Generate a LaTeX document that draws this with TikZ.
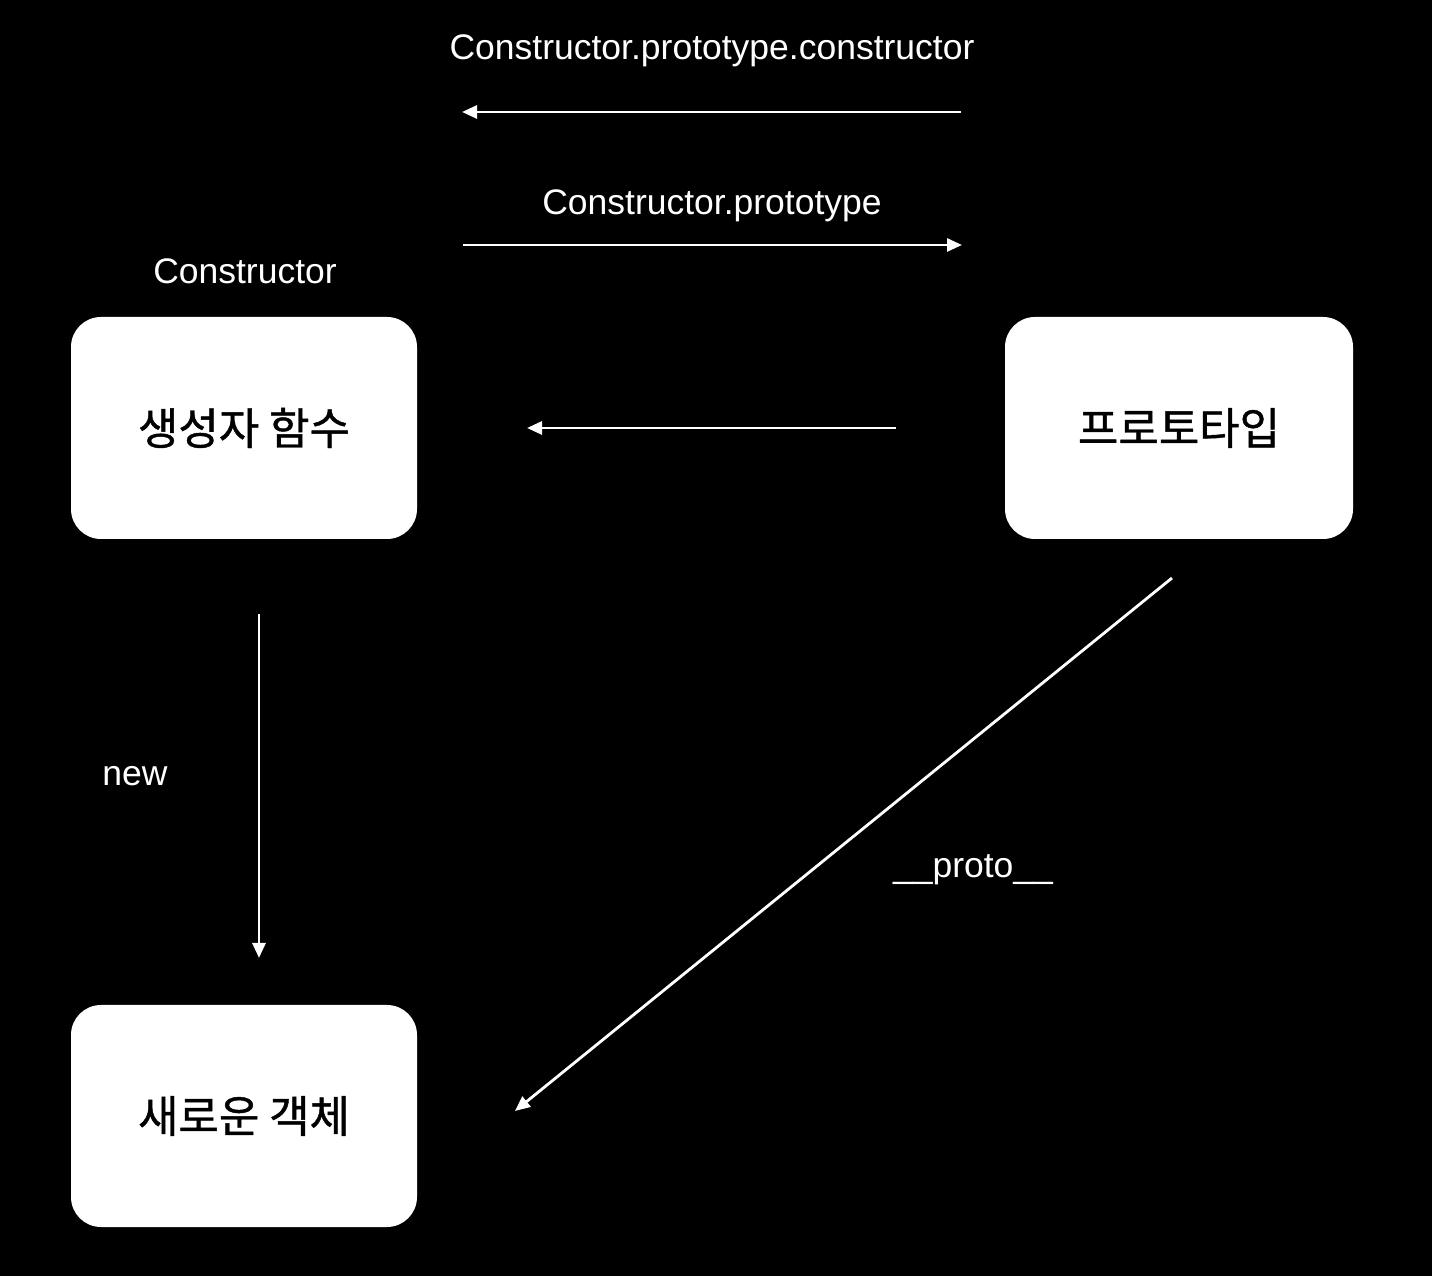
\documentclass[tikz,border=0pt]{standalone}
\usepackage{fontspec}
\setmainfont{Liberation Sans}
\newfontfamily\kor[FakeBold=1]{Noto Sans CJK KR}
\usetikzlibrary{arrows.meta,positioning}
\tikzset{
  card/.style={fill=white,rounded corners=0.6cm,minimum width=6.92cm,minimum height=4.44cm,font=\kor\fontsize{25}{30}\selectfont,text=black},
  lbl/.style={text=white,font=\fontsize{20.2}{24}\selectfont},
  link/.style={white,line width=1.6pt,-{Triangle[length=0.3cm,width=0.26cm]}}
}
\begin{document}
\begin{tikzpicture}
\fill[black] (0,0) rectangle (28.64,25.52);
\useasboundingbox (0,0) rectangle (28.64,25.52);
% boxes
\node[card] (ctor) at (4.88,16.96) {생성자 함수};
\node[card,minimum width=6.96cm] (proto) at (23.58,16.96) {프로토타입};
\node[card] (obj) at (4.88,3.2) {새로운 객체};
% arrow ends
\coordinate (a1) at (19.22,23.28); \coordinate (b1) at (9.24,23.28);
\coordinate (a2) at (9.26,20.62);  \coordinate (b2) at (19.24,20.62);
\coordinate (a3) at (17.92,16.96); \coordinate (b3) at (10.54,16.96);
\coordinate (a4) at (5.18,13.24);  \coordinate (b4) at (5.18,6.36);
\coordinate (a5) at (23.44,13.96); \coordinate (b5) at (10.30,3.30);
\draw[link] (a1) -- (b1);
\draw[link] (a2) -- (b2);
\draw[link] (a3) -- (b3);
\draw[link] (a4) -- (b4);
\draw[link] (a5) -- (b5);
% labels
\node[lbl] (l1) at (14.24,24.50) {Constructor.prototype.constructor};
\node[lbl] (l2) at (14.24,21.40) {Constructor.prototype};
\node[lbl] (l3) at (4.9,20.10) {Constructor};
\node[lbl] (l4) at (2.7,10.00) {new};
\node[lbl] (l5) at (19.46,8.12) {\_\_proto\_\_};
\end{tikzpicture}
\end{document}
